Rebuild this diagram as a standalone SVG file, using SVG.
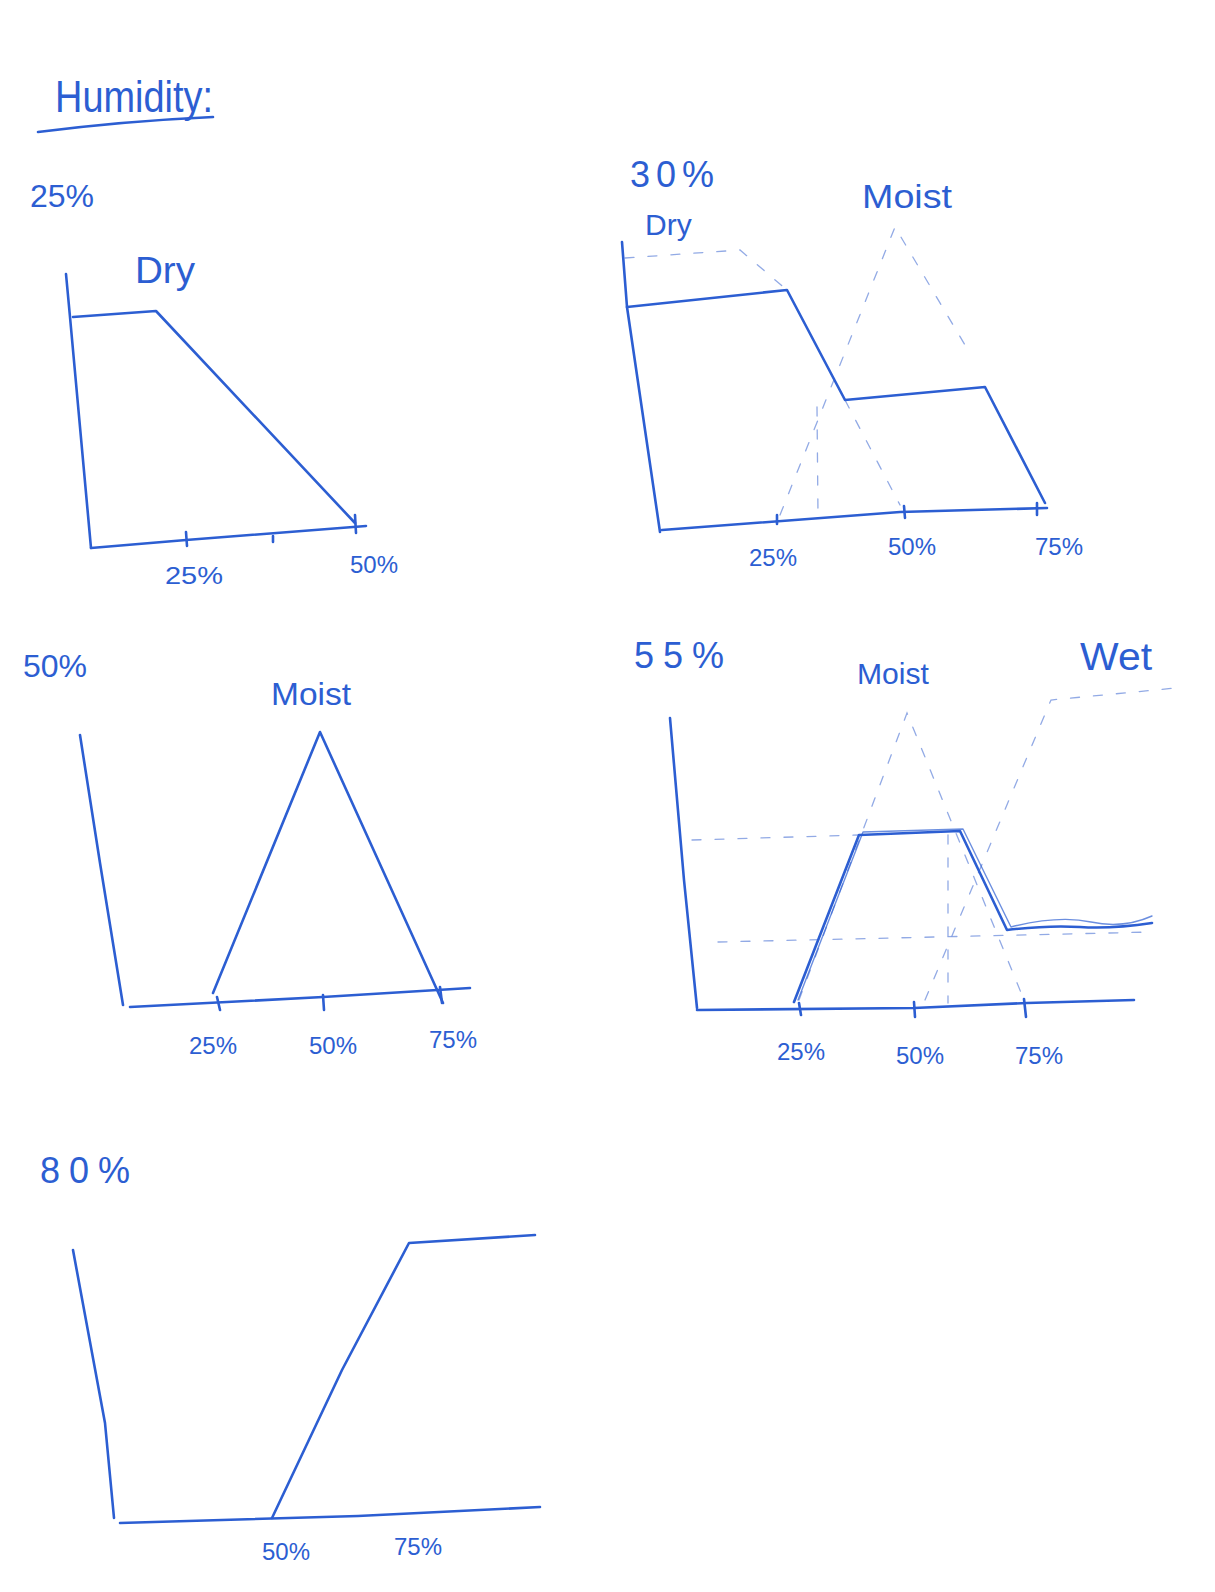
<svg xmlns="http://www.w3.org/2000/svg" width="1215" height="1592" viewBox="0 0 1215 1592">
<style>
.ink{fill:none;stroke:#2c5ed2;stroke-width:2.6;stroke-linecap:round;stroke-linejoin:round}
.thin{fill:none;stroke:#2c5ed2;stroke-width:1.4;stroke-linecap:round;stroke-linejoin:round;opacity:.7}
.dash{fill:none;stroke:#7f9be0;stroke-width:1.3;stroke-dasharray:9 14;stroke-linecap:round;opacity:.85}
.t{font-family:"Liberation Sans",Arial,sans-serif;fill:#2c5ed2}
.tick{font-size:24px}
</style>
<rect width="1215" height="1592" fill="#ffffff"/>

<g id="title">
<text class="t" x="55" y="112" font-size="44" textLength="158" lengthAdjust="spacingAndGlyphs">Humidity:</text>
<path class="ink" d="M38,132 Q125,121 213,117"/>
</g>

<g id="panel-25">
<text class="t" x="30" y="207" font-size="32">25%</text>
<text class="t" x="135" y="283" font-size="36" textLength="60" lengthAdjust="spacingAndGlyphs">Dry</text>
<path class="ink" d="M66,274 L70,317 L91,548"/>
<path class="ink" d="M91,548 L186,540 L366,526"/>
<path class="ink" d="M73,317 L156,311 L355,523"/>
<path class="ink" d="M186,532 L187,546 M355,515 L356,533 M273,536 L273,542"/>
<text class="t tick" x="165" y="584" textLength="58" lengthAdjust="spacingAndGlyphs">25%</text>
<text class="t tick" x="350" y="573">50%</text>
</g>

<g id="panel-30">
<text class="t" x="630" y="187" font-size="36" letter-spacing="6">30%</text>
<text class="t" x="862" y="208" font-size="34" textLength="90" lengthAdjust="spacingAndGlyphs">Moist</text>
<text class="t" x="645" y="235" font-size="30">Dry</text>
<path class="dash" d="M625,258 L740,250 L787,290"/>
<path class="dash" d="M780,515 L895,227 L965,345"/>
<path class="dash" d="M845,400 L900,505"/>
<path class="dash" d="M817,407 L818,515"/>
<path class="ink" d="M622,242 L627,307 L660,532"/>
<path class="ink" d="M627,307 L787,290 L845,400 L985,387 L1045,503"/>
<path class="ink" d="M662,530 L900,512 L1047,508"/>
<path class="ink" d="M777,515 L777,524 M904,506 L905,518 M1037,503 L1037,515"/>
<text class="t tick" x="749" y="566">25%</text>
<text class="t tick" x="888" y="555">50%</text>
<text class="t tick" x="1035" y="555">75%</text>
</g>

<g id="panel-50">
<text class="t" x="23" y="677" font-size="32">50%</text>
<text class="t" x="271" y="705" font-size="32" textLength="80" lengthAdjust="spacingAndGlyphs">Moist</text>
<path class="ink" d="M80,735 L100,863 L123,1005"/>
<path class="ink" d="M130,1007 L323,997 L470,988"/>
<path class="ink" d="M213,993 L320,732 L443,1003"/>
<path class="ink" d="M217,997 L220,1010 M323,995 L324,1010 M440,987 L442,1003"/>
<text class="t tick" x="189" y="1054">25%</text>
<text class="t tick" x="309" y="1054">50%</text>
<text class="t tick" x="429" y="1048">75%</text>
</g>

<g id="panel-55">
<text class="t" x="634" y="668" font-size="36" letter-spacing="9">55%</text>
<text class="t" x="857" y="684" font-size="30" textLength="72" lengthAdjust="spacingAndGlyphs">Moist</text>
<text class="t" x="1080" y="670" font-size="38" textLength="72" lengthAdjust="spacingAndGlyphs">Wet</text>
<path class="dash" d="M692,840 L859,835"/>
<path class="dash" d="M718,942 L1152,932"/>
<path class="dash" d="M799,1000 L907,713 L1024,1000"/>
<path class="dash" d="M948,835 L948,1003"/>
<path class="dash" d="M925,1000 L1051,700 L1176,688"/>
<path class="ink" d="M670,718 L684,880 L697,1008"/>
<path class="ink" d="M697,1010 L914,1008 L1027,1003 L1134,1000"/>
<path class="ink" d="M799,1003 L801,1015 M914,1002 L915,1017 M1024,999 L1026,1017"/>
<path class="ink" d="M794,1002 L859,835 L960,831 L1007,930 Q1048,925 1080,927 T1152,923"/>
<path class="thin" d="M798,1000 L863,832 L963,829 L1011,927 Q1059,915 1091,922 T1152,916"/>
<text class="t tick" x="777" y="1060">25%</text>
<text class="t tick" x="896" y="1064">50%</text>
<text class="t tick" x="1015" y="1064">75%</text>
</g>

<g id="panel-80">
<text class="t" x="40" y="1183" font-size="36" letter-spacing="9">80%</text>
<path class="ink" d="M73,1250 L105,1423 L114,1518"/>
<path class="ink" d="M120,1523 L358,1516 L540,1507"/>
<path class="ink" d="M272,1518 L342,1370 L409,1243 L535,1235"/>
<text class="t tick" x="262" y="1560">50%</text>
<text class="t tick" x="394" y="1555">75%</text>
</g>
</svg>
